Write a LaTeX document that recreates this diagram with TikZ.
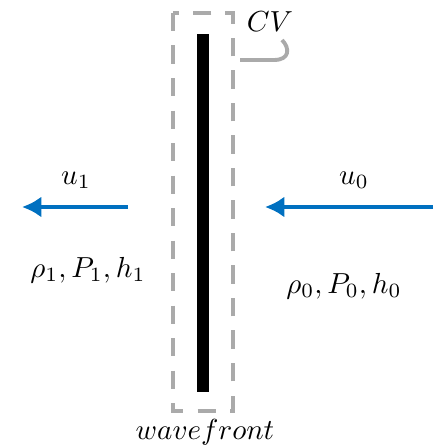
\documentclass[tikz,border=0pt]{standalone}
\usepackage{xcolor,tikz}
\usepackage{amsmath,amssymb,amsfonts}
\usetikzlibrary{arrows.meta}
\definecolor{flowblue}{RGB}{0,112,192}
\definecolor{cvgray}{RGB}{170,170,170}

\begin{document}
\begin{tikzpicture}[x=0.02cm, y=-0.02cm,
    lbl/.style={scale=1.65, inner sep=1pt},
    flow/.style={-{Latex[length=11pt,width=12pt]}, line width=2.6pt, color=flowblue}]
    \useasboundingbox (0,0) rectangle (433,448);
    % control volume
    \coordinate (cvtl) at (173,13);
    \coordinate (cvbr) at (233,411);
    \draw[cvgray, line width=2.5pt, dash pattern=on 10.5pt off 8pt] (cvtl) rectangle (cvbr);
    \node (front) [fill=black, minimum width=0.24cm, minimum height=7.16cm, inner sep=0pt] at (203,213) {};
    \node (cvlabel) [lbl] at (270,22) {$CV$};
    \coordinate (hook) at (240,60);
    \draw[cvgray, line width=2.2pt] (hook) -- (274,60) .. controls (290,60) and (290,48) .. (282,40);
    % flows
    \coordinate (u1start) at (128,207);
    \coordinate (u1end) at (22,207);
    \coordinate (u0start) at (433,207);
    \coordinate (u0end) at (265,207);
    \draw[flow] (u1start) -- (u1end);
    \draw[flow] (u0start) -- (u0end);
    \node (u1) [lbl] at (76,180) {$u_1$};
    \node (u0) [lbl] at (354,180) {$u_0$};
    \node (state1) [lbl] at (88,270) {$\rho_1, P_1, h_1$};
    \node (state0) [lbl] at (344,286) {$\rho_0, P_0, h_0$};
    \node (wave) [lbl] at (205,432) {$wavefront$};
\end{tikzpicture}
\end{document}
